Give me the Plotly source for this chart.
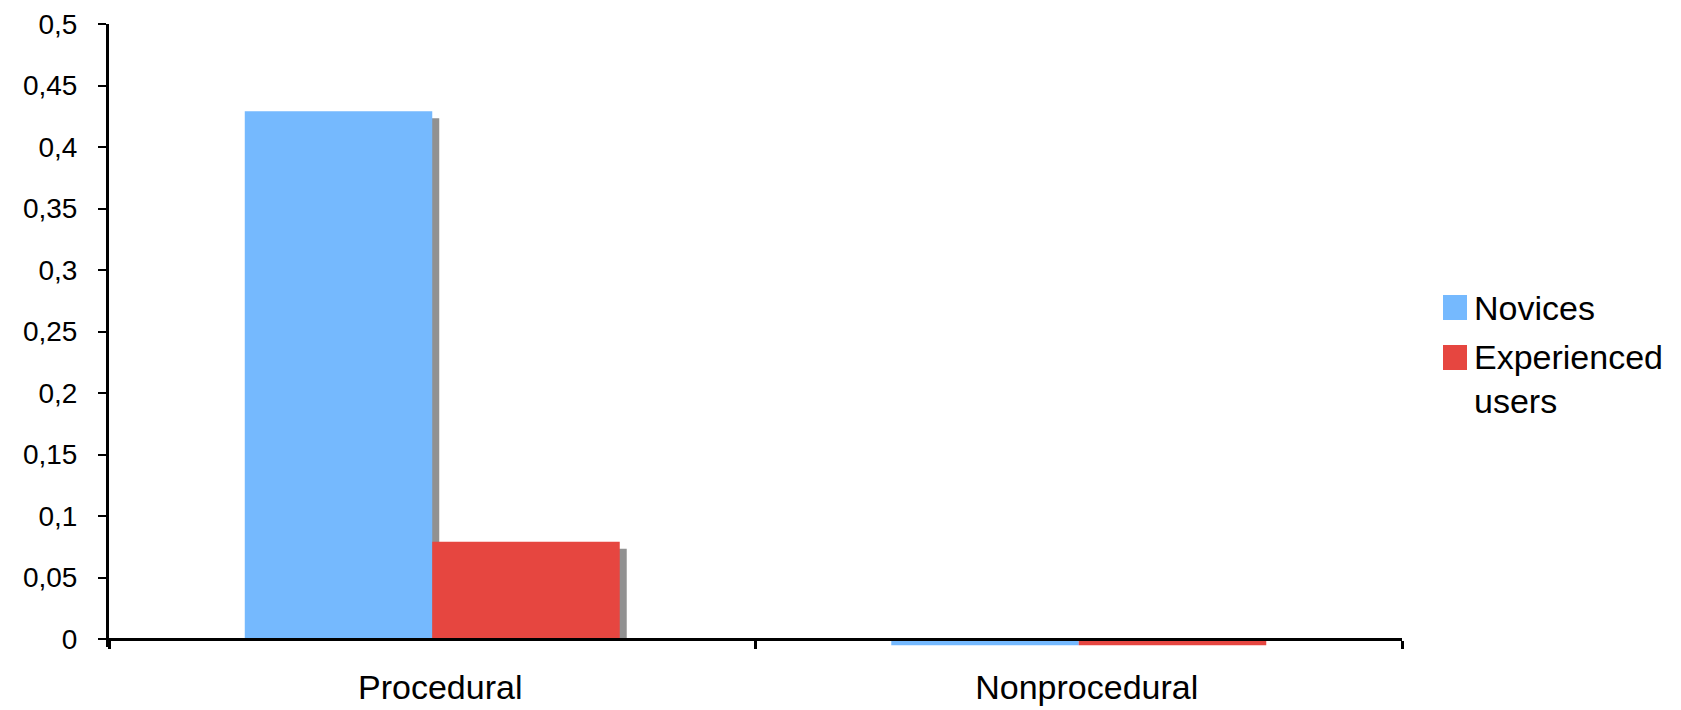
import plotly.graph_objects as go

# Data
categories = ["Procedural", "Nonprocedural"]
series_names = ["Novices", "Experienced<br>users"]
novices = [0.429, -0.005]
experienced = [0.079, -0.005]
y_tickvals = [0, 0.05, 0.1, 0.15, 0.2, 0.25, 0.3, 0.35, 0.4, 0.45, 0.5]
y_ticktext = ["0", "0,05", "0,1", "0,15", "0,2", "0,25", "0,3", "0,35", "0,4", "0,45", "0,5"]

# Styling
colors = ["#75b9fe", "#e64640"]
shadow_color = "#919191"
font_family = "Liberation Sans, Arial, sans-serif"

W, H = 1681, 710
left, right, top, bottom = 109, 1402, 24, 647
y_min, y_max = -0.0065, 0.5
plot_w, plot_h = right - left, bottom - top
px_per_y = plot_h / (y_max - y_min)
px_per_cat = plot_w / len(categories)

bar_w = 0.29
shadow_px = 7
dx = shadow_px / px_per_cat
dy = shadow_px / px_per_y


def paper_x(px):
    return (px - left) / plot_w


def paper_y(py):
    return (bottom - py) / plot_h


series = [novices, experienced]
offsets = [-bar_w, 0.0]

fig = go.Figure()

# drop shadows (only above the baseline)
for vals, off in zip(series, offsets):
    fig.add_trace(go.Bar(
        x=categories,
        y=[v - dy if v > dy else None for v in vals],
        base=0,
        width=bar_w,
        offset=off + dx,
        marker=dict(color=shadow_color, line=dict(width=0)),
        showlegend=False,
        hoverinfo="skip",
    ))

for vals, off, name, col in zip(series, offsets, series_names, colors):
    fig.add_trace(go.Bar(
        x=categories,
        y=vals,
        width=bar_w,
        offset=off,
        name=name,
        marker=dict(color=col, line=dict(width=0)),
        showlegend=False,
    ))

# legend drawn as swatches + labels
legend_rows = [307.5, 357.5]
shapes = []
annotations = []
for name, col, cy in zip(series_names, colors, legend_rows):
    shapes.append(dict(
        type="rect", xref="paper", yref="paper",
        x0=paper_x(1443), x1=paper_x(1467),
        y0=paper_y(cy + 12.5), y1=paper_y(cy - 12.5),
        fillcolor=col, line=dict(width=0),
    ))
    n_lines = name.count("<br>") + 1
    center = cy + (n_lines - 1) * 44 / 2
    annotations.append(dict(
        xref="paper", yref="paper",
        x=paper_x(1472), y=paper_y(center),
        xanchor="left", yanchor="middle", align="left",
        text=name, showarrow=False,
        font=dict(family=font_family, size=34, color="#000000"),
    ))

fig.update_layout(
    width=W, height=H,
    margin=dict(l=left, r=W - right, t=top, b=H - bottom, pad=0, autoexpand=False),
    paper_bgcolor="#ffffff",
    plot_bgcolor="#ffffff",
    barmode="overlay",
    showlegend=False,
    font=dict(family=font_family, color="#000000"),
    shapes=shapes,
    annotations=annotations,
    xaxis=dict(
        type="category",
        range=[-0.5, len(categories) - 0.5],
        anchor="free",
        position=(0 - y_min) / (y_max - y_min),
        automargin=False,
        showline=True, linecolor="#000000", linewidth=3,
        ticks="outside", tickson="boundaries", ticklen=8, tickwidth=3, tickcolor="#000000",
        showgrid=False, zeroline=False,
        tickfont=dict(size=34, family=font_family, color="#000000"),
        ticklabelstandoff=17,
        ticklabelshift=8,
    ),
    yaxis=dict(
        range=[y_min, y_max],
        automargin=False,
        tickvals=y_tickvals, ticktext=y_ticktext,
        showline=True, linecolor="#000000", linewidth=3,
        ticks="outside", ticklen=8, tickwidth=2, tickcolor="#000000",
        showgrid=False, zeroline=False,
        tickfont=dict(size=28, family=font_family, color="#000000"),
        ticklabelstandoff=15,
    ),
)

fig.write_html("out.html")
